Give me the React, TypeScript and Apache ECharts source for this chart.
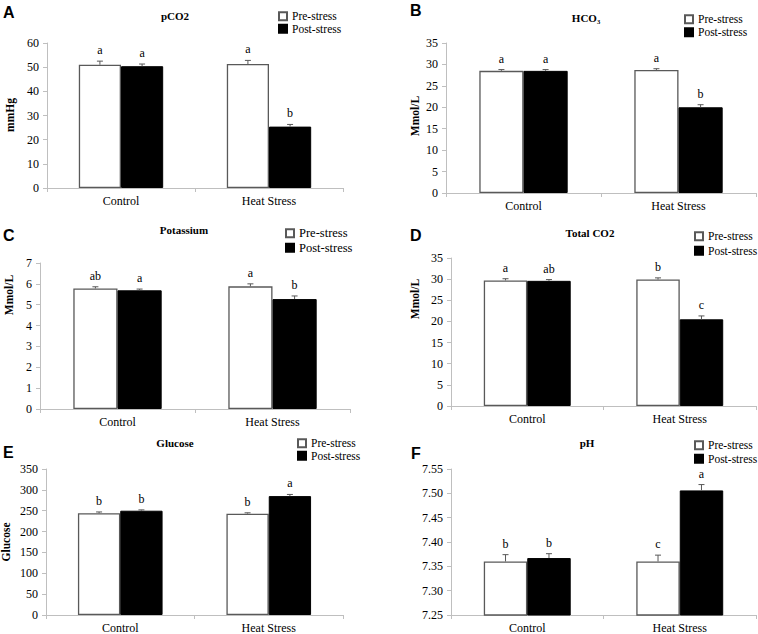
import React, { useEffect, useRef } from 'react';
import * as echarts from 'echarts';

const categories = ['Control', 'Heat Stress'];
const seriesNames = ['Pre-stress', 'Post-stress'];

// A: pCO2 (mmHg)
const pco2Pre = [51.0, 51.3];
const pco2Post = [50.4, 25.4];
const pco2PreErr = [1.5, 1.5];
const pco2PostErr = [0.9, 0.9];
const pco2PreSig = ['a', 'a'];
const pco2PostSig = ['a', 'b'];
const pco2Axis = [0, 60, 10];

// B: HCO3 (Mmol/L)
const hco3Pre = [28.5, 28.7];
const hco3Post = [28.5, 20.0];
const hco3PreErr = [0.3, 0.3];
const hco3PostErr = [0.3, 0.6];
const hco3PreSig = ['a', 'a'];
const hco3PostSig = ['a', 'b'];
const hco3Axis = [0, 35, 5];

// C: Potassium (Mmol/L)
const kPre = [5.78, 5.88];
const kPost = [5.69, 5.27];
const kPreErr = [0.08, 0.12];
const kPostErr = [0.06, 0.15];
const kPreSig = ['ab', 'a'];
const kPostSig = ['a', 'b'];
const kAxis = [0, 7, 1];

// D: Total CO2 (Mmol/L)
const tco2Pre = [29.7, 29.9];
const tco2Post = [29.6, 20.5];
const tco2PreErr = [0.4, 0.4];
const tco2PostErr = [0.3, 0.8];
const tco2PreSig = ['a', 'b'];
const tco2PostSig = ['ab', 'c'];
const tco2Axis = [0, 35, 5];

// E: Glucose
const gluPre = [244, 243];
const gluPost = [250, 285];
const gluPreErr = [3, 2];
const gluPostErr = [2, 4];
const gluPreSig = ['b', 'b'];
const gluPostSig = ['b', 'a'];
const gluAxis = [0, 350, 50];

// F: pH
const phPre = [7.36, 7.36];
const phPost = [7.367, 7.506];
const phPreErr = [0.014, 0.013];
const phPostErr = [0.009, 0.012];
const phPreSig = ['b', 'c'];
const phPostSig = ['b', 'a'];
const phAxis = [7.25, 7.55, 0.05];

const SERIF = 'Liberation Serif';
const SANS = 'Liberation Sans';
const AXIS_COLOR = '#bfbfbf';
const BORDER = '#595959';
const GAP = 0.43;

type Panel = {
  letter: string; letterX: number; letterY: number;
  title: string; titleX: number; titleY: number;
  yName: string; yNameX: number; yNameY: number;
  grid: { left: number; top: number; width: number; height: number };
  axis: number[]; decimals: number;
  pre: number[]; post: number[]; preErr: number[]; postErr: number[]; preSig: string[]; postSig: string[];
  legendX: number; legendY: number; legendFont: number; legendGap: number;
};

const panels: Panel[] = [
  { letter: 'A', letterX: 3, letterY: 12, title: 'pCO2', titleX: 175, titleY: 16, yName: 'mmHg', yNameX: 10, yNameY: 115,
    grid: { left: 47, top: 43, width: 296, height: 145 }, axis: pco2Axis, decimals: 0,
    pre: pco2Pre, post: pco2Post, preErr: pco2PreErr, postErr: pco2PostErr, preSig: pco2PreSig, postSig: pco2PostSig,
    legendX: 278, legendY: 16, legendFont: 11.5, legendGap: 0.5 },
  { letter: 'B', letterX: 410, letterY: 10, title: 'HCO₃', titleX: 586, titleY: 18, yName: 'Mmol/L', yNameX: 415, yNameY: 116,
    grid: { left: 446, top: 43, width: 310, height: 150 }, axis: hco3Axis, decimals: 0,
    pre: hco3Pre, post: hco3Post, preErr: hco3PreErr, postErr: hco3PostErr, preSig: hco3PreSig, postSig: hco3PostSig,
    legendX: 684, legendY: 19, legendFont: 11.5, legendGap: 1 },
  { letter: 'C', letterX: 3, letterY: 235, title: 'Potassium', titleX: 184, titleY: 230, yName: 'Mmol/L', yNameX: 9, yNameY: 295,
    grid: { left: 40, top: 263, width: 310, height: 146 }, axis: kAxis, decimals: 0,
    pre: kPre, post: kPost, preErr: kPreErr, postErr: kPostErr, preSig: kPreSig, postSig: kPostSig,
    legendX: 285, legendY: 233, legendFont: 12.5, legendGap: 1.5 },
  { letter: 'D', letterX: 410, letterY: 235, title: 'Total CO2', titleX: 590, titleY: 233, yName: 'Mmol/L', yNameX: 415, yNameY: 299,
    grid: { left: 451, top: 258, width: 305, height: 148 }, axis: tco2Axis, decimals: 0,
    pre: tco2Pre, post: tco2Post, preErr: tco2PreErr, postErr: tco2PostErr, preSig: tco2PreSig, postSig: tco2PostSig,
    legendX: 694, legendY: 236, legendFont: 11.5, legendGap: 2.5 },
  { letter: 'E', letterX: 3, letterY: 452, title: 'Glucose', titleX: 175, titleY: 443, yName: 'Glucose', yNameX: 6, yNameY: 542,
    grid: { left: 46, top: 469, width: 297, height: 147 }, axis: gluAxis, decimals: 0,
    pre: gluPre, post: gluPost, preErr: gluPreErr, postErr: gluPostErr, preSig: gluPreSig, postSig: gluPostSig,
    legendX: 297, legendY: 443, legendFont: 11.5, legendGap: 0.5 },
  { letter: 'F', letterX: 411, letterY: 453, title: 'pH', titleX: 587, titleY: 443, yName: '', yNameX: 0, yNameY: 0,
    grid: { left: 451, top: 469, width: 305, height: 147 }, axis: phAxis, decimals: 2,
    pre: phPre, post: phPost, preErr: phPreErr, postErr: phPostErr, preSig: phPreSig, postSig: phPostSig,
    legendX: 694, legendY: 445, legendFont: 11.5, legendGap: 1.5 },
];

function errorRenderer(errs: number[], sigs: string[], side: number) {
  return (params: any, api: any) => {
    const ci = api.value(0);
    const v = api.value(1);
    const e = errs[params.dataIndex];
    const base = api.coord([ci, v]);
    const top = api.coord([ci, v + e]);
    const band = api.size([1, 0])[0];
    const bw = (band * (1 - GAP)) / 2;
    const x = base[0] + (side * bw) / 2;
    return {
      type: 'group',
      children: [
        { type: 'line', shape: { x1: x, y1: base[1], x2: x, y2: top[1] }, style: { stroke: BORDER, lineWidth: 1 } },
        { type: 'line', shape: { x1: x - 3, y1: top[1], x2: x + 3, y2: top[1] }, style: { stroke: BORDER, lineWidth: 1 } },
        {
          type: 'text', x, y: top[1] - 11,
          style: {
            text: sigs[params.dataIndex], fill: '#000', fontSize: 12, fontFamily: SERIF,
            align: 'center', verticalAlign: 'middle', textAlign: 'center', textVerticalAlign: 'middle',
          },
        },
      ],
    };
  };
}

function buildOption() {
  const grid: any[] = [];
  const xAxis: any[] = [];
  const yAxis: any[] = [];
  const series: any[] = [];
  const legend: any[] = [];
  const graphic: any[] = [];

  panels.forEach((p, i) => {
    grid.push({ ...p.grid, containLabel: false });
    xAxis.push({
      gridIndex: i, type: 'category', data: categories,
      axisLine: { show: true, lineStyle: { color: AXIS_COLOR, width: 1 } },
      axisTick: { show: true, length: 4, lineStyle: { color: AXIS_COLOR } },
      axisLabel: {
        color: '#000', fontFamily: SERIF, fontSize: 12, margin: 7,
        formatter: '{s|{value}}',
        rich: { s: { fontFamily: SERIF, fontSize: 12, color: '#000' } },
      },
      splitLine: { show: false },
    });
    yAxis.push({
      gridIndex: i, type: 'value', min: p.axis[0], max: p.axis[1], interval: p.axis[2],
      axisLine: { show: true, lineStyle: { color: AXIS_COLOR, width: 1 } },
      axisTick: { show: true, length: 4, lineStyle: { color: AXIS_COLOR } },
      axisLabel: {
        color: '#000', fontFamily: SERIF, fontSize: 12, margin: 8,
        formatter: (v: number) => '{s|' + v.toFixed(p.decimals) + '}',
        rich: { s: { fontFamily: SERIF, fontSize: 12, color: '#000' } },
      },
      splitLine: { show: false },
    });
    series.push({
      name: seriesNames[0], type: 'bar', xAxisIndex: i, yAxisIndex: i, data: p.pre,
      barGap: '0%', barCategoryGap: GAP * 100 + '%', clip: true,
      itemStyle: { color: '#ffffff', borderColor: BORDER, borderWidth: 1.3 },
    });
    series.push({
      name: seriesNames[1], type: 'bar', xAxisIndex: i, yAxisIndex: i, data: p.post,
      barGap: '0%', barCategoryGap: GAP * 100 + '%', clip: true,
      itemStyle: { color: '#000000', borderColor: '#000000', borderWidth: 1 },
    });
    series.push({
      name: seriesNames[0] + ' error', type: 'custom', xAxisIndex: i, yAxisIndex: i, z: 5,
      data: p.pre.map((v, k) => [k, v]), renderItem: errorRenderer(p.preErr, p.preSig, -1),
      encode: { x: 0, y: 1 },
    });
    series.push({
      name: seriesNames[1] + ' error', type: 'custom', xAxisIndex: i, yAxisIndex: i, z: 5,
      data: p.post.map((v, k) => [k, v]), renderItem: errorRenderer(p.postErr, p.postSig, 1),
      encode: { x: 0, y: 1 },
    });
    legend.push({
      left: p.legendX, top: p.legendY - p.legendFont / 2, orient: 'vertical',
      itemWidth: 8, itemHeight: 8, itemGap: p.legendGap, icon: 'rect', padding: 0,
      data: seriesNames, selectedMode: false,
      formatter: '{s|{name}}',
      textStyle: {
        color: '#000', fontFamily: SERIF, fontSize: p.legendFont,
        rich: { s: { fontFamily: SERIF, fontSize: p.legendFont, color: '#000' } },
      },
    });
    graphic.push({
      type: 'text', x: p.letterX, y: p.letterY,
      style: {
        text: p.letter, fill: '#000', fontSize: 16, fontWeight: 'bold', fontFamily: SANS,
        textAlign: 'left', textVerticalAlign: 'middle', align: 'left', verticalAlign: 'middle',
      },
    });
    graphic.push({
      type: 'text', x: p.titleX, y: p.titleY,
      style: {
        text: p.title, fill: '#000', fontSize: 11, fontWeight: 'bold', fontFamily: SERIF,
        textAlign: 'center', textVerticalAlign: 'middle', align: 'center', verticalAlign: 'middle',
      },
    });
    if (p.yName) {
      graphic.push({
        type: 'text', x: p.yNameX, y: p.yNameY, rotation: Math.PI / 2,
        style: {
          text: p.yName, fill: '#000', fontSize: 11.5, fontWeight: 'bold', fontFamily: SERIF,
          textAlign: 'center', textVerticalAlign: 'middle', align: 'center', verticalAlign: 'middle',
        },
      });
    }
  });

  return {
    animation: false,
    backgroundColor: '#ffffff',
    textStyle: { fontFamily: SERIF, color: '#000' },
    grid, xAxis, yAxis, series, legend,
    graphic: { elements: graphic },
  };
}

export default function App() {
  const ref = useRef<HTMLDivElement>(null);
  useEffect(() => {
    if (!ref.current) return;
    const chart = echarts.init(ref.current, undefined, { renderer: 'svg' });
    chart.setOption(buildOption() as any);
    return () => chart.dispose();
  }, []);
  return (
    <div
      ref={ref}
      style={{ position: 'absolute', left: 0, top: 0, width: 758, height: 634, background: '#fff' }}
    />
  );
}
